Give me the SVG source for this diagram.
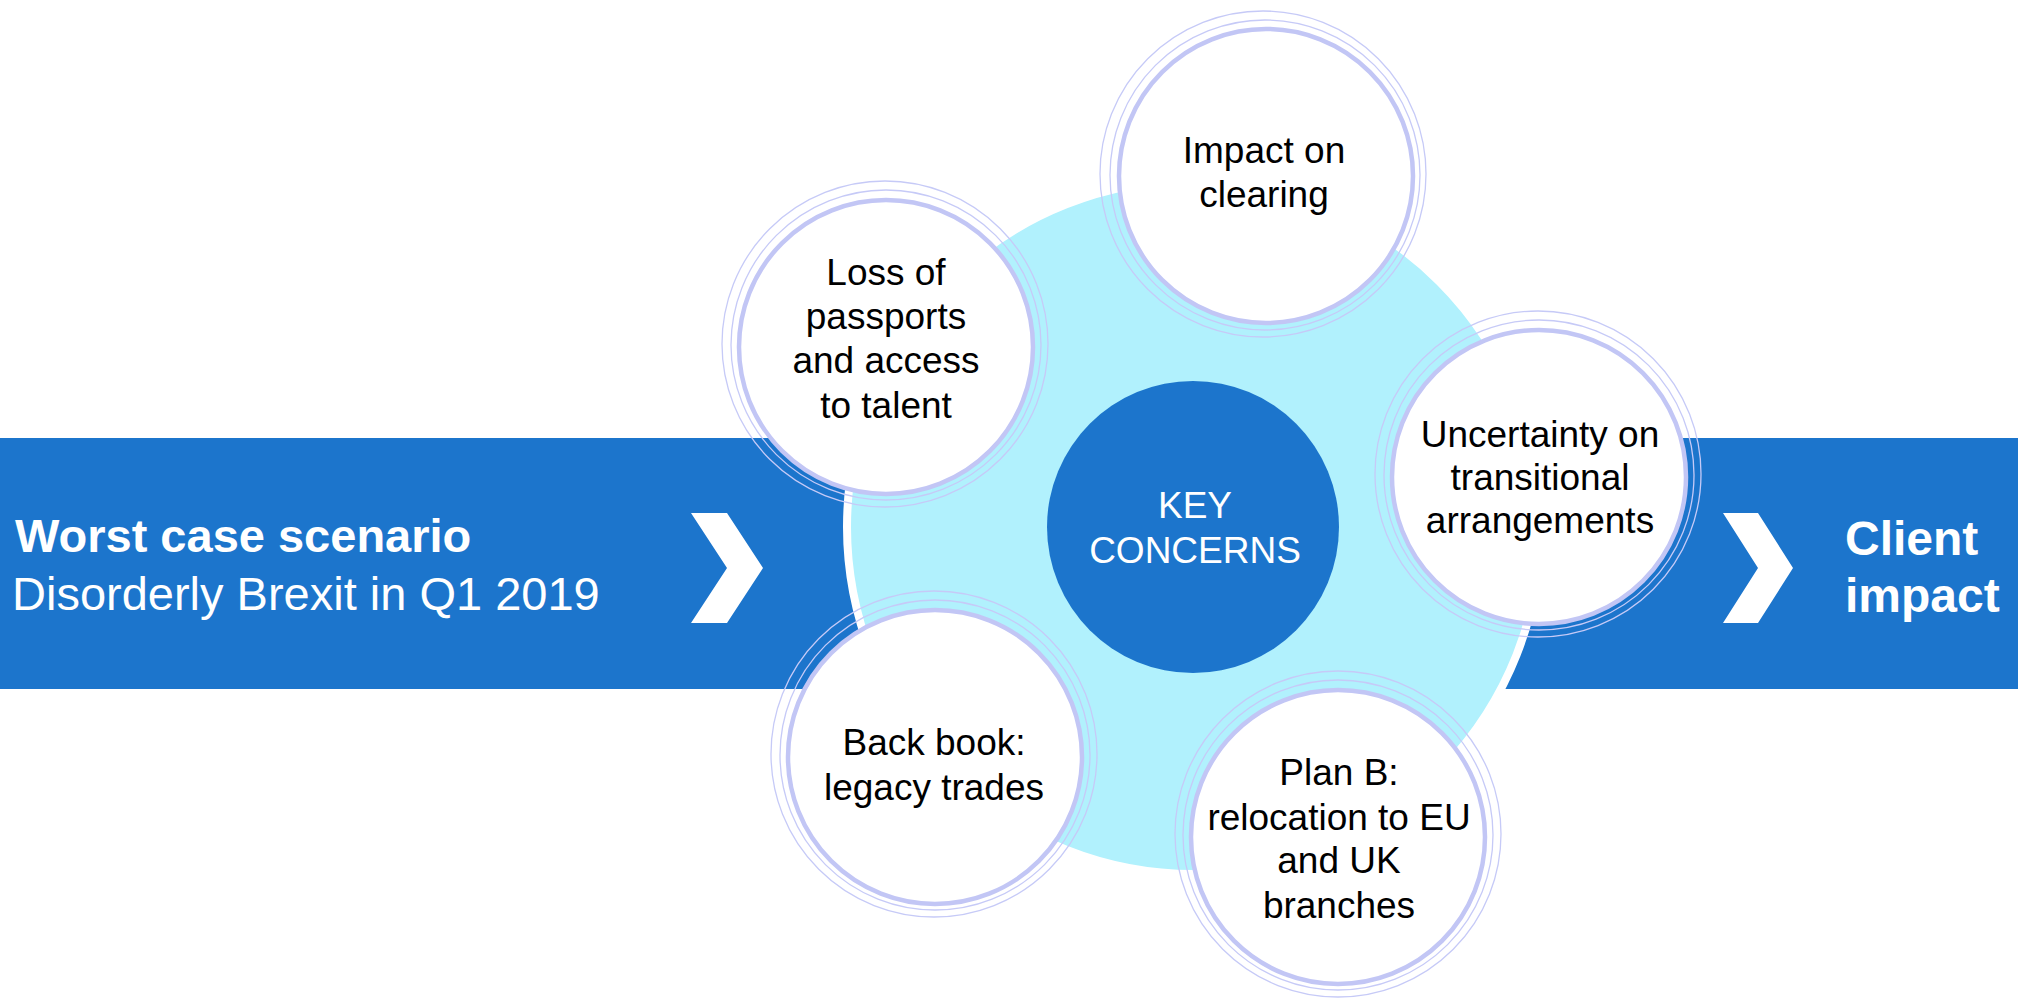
<svg xmlns="http://www.w3.org/2000/svg" width="2018" height="1002" viewBox="0 0 2018 1002">
<style>
.band{fill:#1c75cc}
.big{fill:#b1f1fd;stroke:#ffffff;stroke-width:8}
.core{fill:#1c75cc}
.disc{fill:#ffffff;stroke:#c2c6f5;stroke-width:4.5}
.ring{fill:none;stroke:#c6caf7;stroke-width:1.3}
.chev{fill:#ffffff}
.t{font-family:"Liberation Sans",Arial,sans-serif;font-size:37px;fill:#000000;text-anchor:middle}
.tw{font-family:"Liberation Sans",Arial,sans-serif;font-size:37px;fill:#ffffff;text-anchor:middle}
.bh{font-family:"Liberation Sans",Arial,sans-serif;font-size:47px;fill:#ffffff;font-weight:bold}
.br{font-family:"Liberation Sans",Arial,sans-serif;font-size:47px;fill:#ffffff}
</style>
<rect class="band" x="0" y="438" width="2018" height="251"/>
<polygon class="chev" points="691,513 727,513 763,568 727,623 691,623 727,568"/>
<polygon class="chev" points="1723,513 1758,513 1793,568 1758,623 1723,623 1758,568"/>
<text class="bh" x="15" y="552">Worst case scenario</text>
<text class="br" x="12" y="610">Disorderly Brexit in Q1 2019</text>
<text class="bh" x="1845" y="555" style="font-size:48px">Client</text>
<text class="bh" x="1845" y="612" style="font-size:48px">impact</text>
<circle class="big" cx="1194" cy="527" r="347"/>
<g id="key-concerns">
<circle class="core" cx="1193" cy="527" r="146"/>
<text class="tw" x="1195" y="518">KEY</text>
<text class="tw" x="1195" y="563">CONCERNS</text>
</g>
<g id="connectors"></g>
<g id="node-passports">
<circle class="disc" cx="886" cy="347" r="147"/>
<circle class="ring" cx="886" cy="345" r="155"/>
<circle class="ring" cx="885" cy="344" r="163"/>
<text class="t" x="886" y="285">Loss of</text>
<text class="t" x="886" y="329">passports</text>
<text class="t" x="886" y="373">and access</text>
<text class="t" x="886" y="418">to talent</text>
</g>
<g id="node-clearing">
<circle class="disc" cx="1266" cy="176" r="147"/>
<circle class="ring" cx="1265" cy="175" r="155"/>
<circle class="ring" cx="1263" cy="174" r="163"/>
<text class="t" x="1264" y="163">Impact on</text>
<text class="t" x="1264" y="207">clearing</text>
</g>
<g id="node-uncertainty">
<circle class="disc" cx="1539" cy="477" r="147"/>
<circle class="ring" cx="1539" cy="475" r="155"/>
<circle class="ring" cx="1538" cy="474" r="163"/>
<text class="t" x="1540" y="447">Uncertainty on</text>
<text class="t" x="1540" y="490">transitional</text>
<text class="t" x="1540" y="533">arrangements</text>
</g>
<g id="node-backbook">
<circle class="disc" cx="935" cy="757" r="147"/>
<circle class="ring" cx="935" cy="755" r="155"/>
<circle class="ring" cx="934" cy="754" r="163"/>
<text class="t" x="934" y="755">Back book:</text>
<text class="t" x="934" y="800">legacy trades</text>
</g>
<g id="node-planb">
<circle class="disc" cx="1338" cy="837" r="147"/>
<circle class="ring" cx="1338" cy="835" r="155"/>
<circle class="ring" cx="1338" cy="834" r="163"/>
<text class="t" x="1339" y="785">Plan B:</text>
<text class="t" x="1339" y="830">relocation to EU</text>
<text class="t" x="1339" y="873">and UK</text>
<text class="t" x="1339" y="918">branches</text>
</g>
</svg>
